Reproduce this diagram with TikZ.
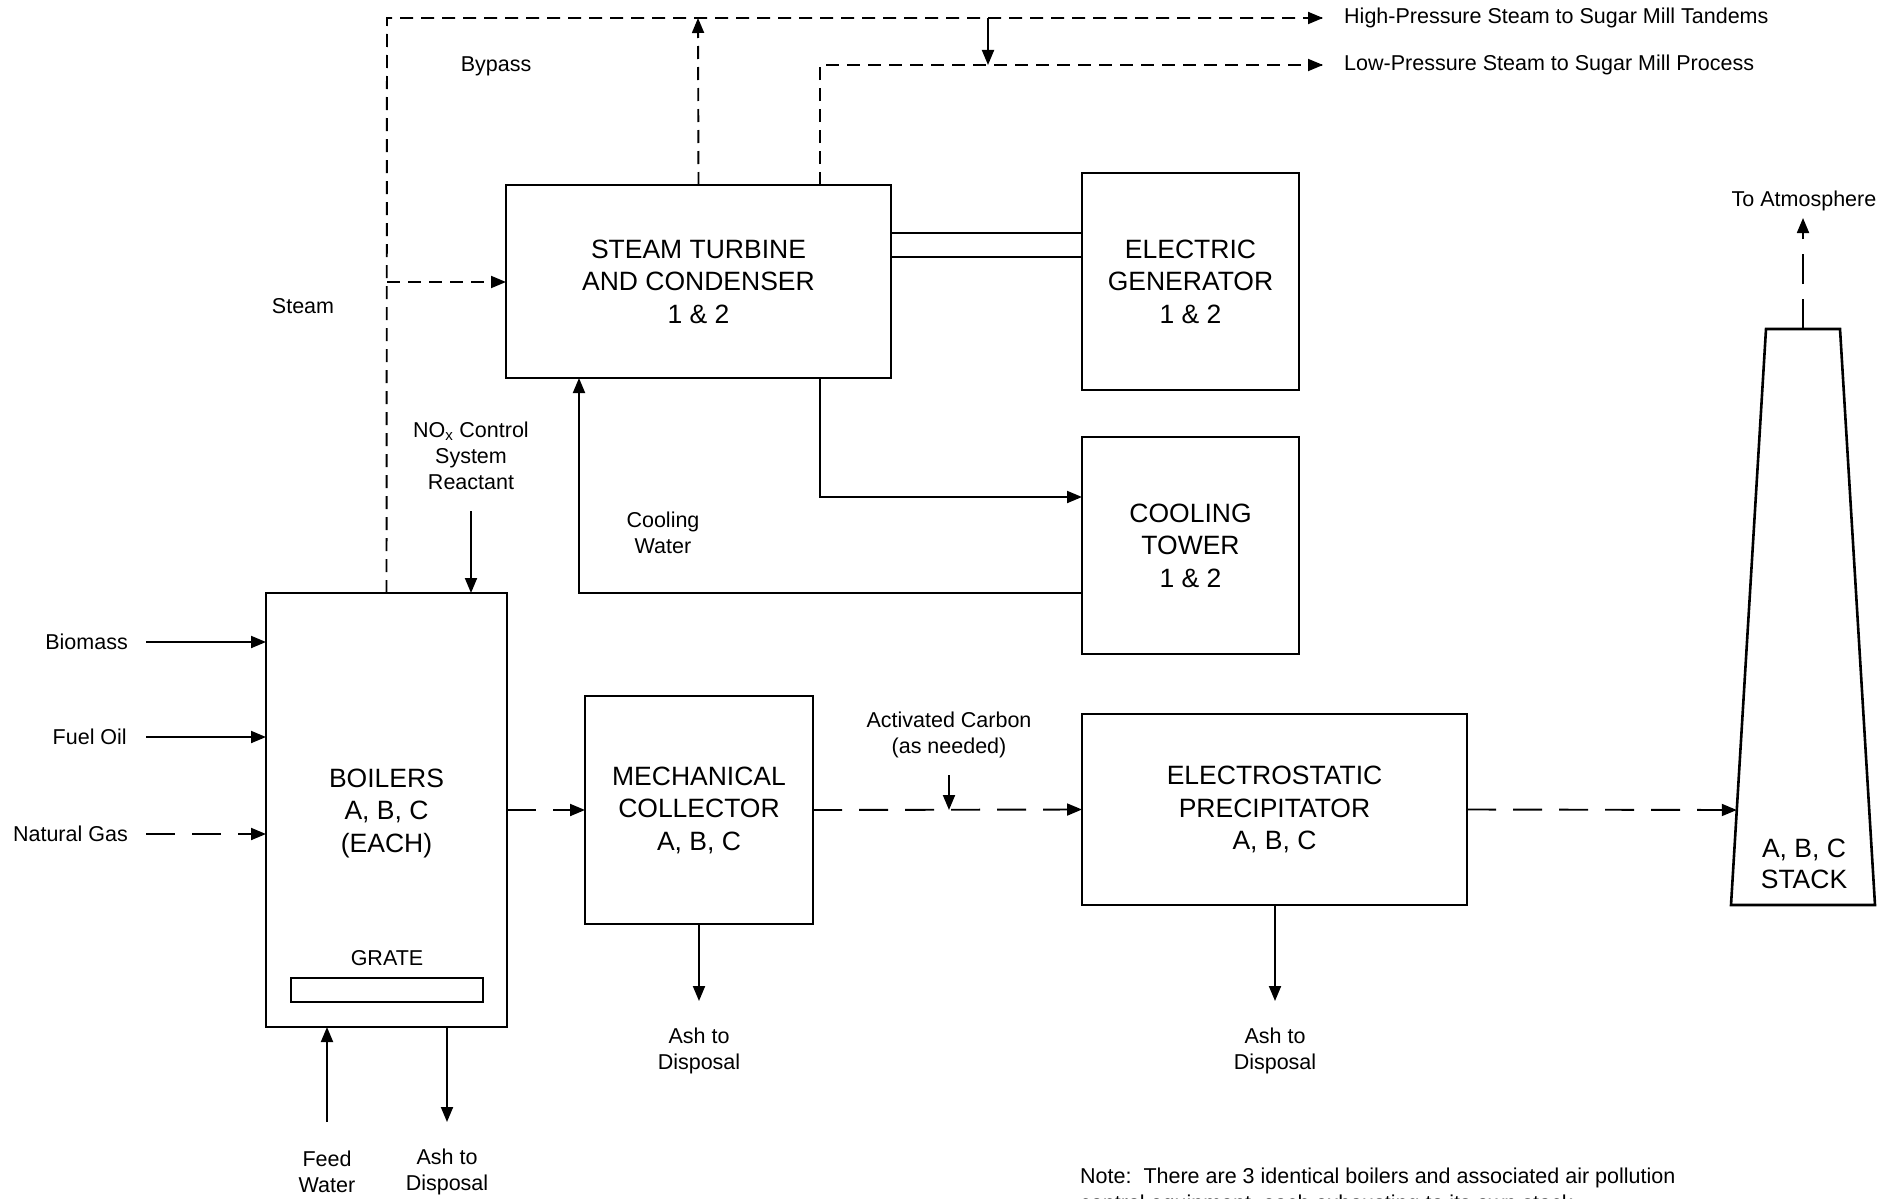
\documentclass[tikz,border=0pt]{standalone}
\usepackage{fontspec}
\setmainfont{Liberation Sans}
\usetikzlibrary{arrows.meta,calc}

\tikzset{
  unit/.style={draw, line width=2.6pt, rectangle, outer sep=0pt, inner sep=0pt,
    align=center, font=\fontsize{26.5}{32.5}\selectfont},
  lbl/.style={inner sep=0pt, align=center, font=\fontsize{21.5}{26.3}\selectfont},
  flow/.style={line width=1.9pt},
  tip/.style={-{Triangle[length=15pt,width=12pt]}},
  steamdash/.style={dash pattern=on 13pt off 8pt},
  gasdash/.style={dash pattern=on 29pt off 17pt},
}

\begin{document}
\begin{tikzpicture}[x=1pt, y=-1pt]
\useasboundingbox (0,0) rectangle (1898,1199);

% ---------- process units ----------
\node[unit, minimum width=385pt, minimum height=193pt] (turb) at (698.5,281.5)
  {STEAM TURBINE\\AND CONDENSER\\1 \& 2};
\node[unit, minimum width=217pt, minimum height=217pt] (gen) at (1190.5,281.5)
  {ELECTRIC\\GENERATOR\\1 \& 2};
\node[unit, minimum width=217pt, minimum height=217pt] (tower) at (1190.5,545.5)
  {COOLING\\TOWER\\1 \& 2};
\node[unit, minimum width=241pt, minimum height=434pt] (boil) at (386.5,810)
  {};
\node[font=\fontsize{26.5}{32.5}\selectfont, align=center] (boiltxt) at (386.5,813)
  {BOILERS\\A, B, C\\(EACH)};
\node[unit, minimum width=192pt, minimum height=24pt] (grate) at (387,990) {};
\node[lbl] (gratelbl) at (387,958) {GRATE};
\node[unit, minimum width=228pt, minimum height=228pt] (mech) at (699,810)
  {MECHANICAL\\COLLECTOR\\A, B, C};
\node[unit, minimum width=385pt, minimum height=191pt] (esp) at (1274.5,809.5)
  {ELECTROSTATIC\\PRECIPITATOR\\A, B, C};

% stack (tapered)
\coordinate (sbl) at (1731,905);
\coordinate (stl) at (1766,329);
\coordinate (str) at (1840,329);
\coordinate (sbr) at (1875,905);
\draw[line width=2.6pt, line join=miter] (sbl) -- (stl) -- (str) -- (sbr) -- cycle;
\node[font=\fontsize{26.5}{30.5}\selectfont, align=center] (stack) at (1804,864)
  {A, B, C\\STACK};
\coordinate (stacktop) at (1803,329);
\coordinate (stackin) at ($(sbl)!{95/576}!(stl)$);

% ---------- labels ----------
\node[lbl, anchor=west] (hp) at (1344,18) {High-Pressure Steam to Sugar Mill Tandems};
\node[lbl, anchor=west] (lp) at (1344,65) {Low-Pressure Steam to Sugar Mill Process};
\node[lbl] (bypass) at (496,66) {Bypass};
\node[lbl] (steam) at (303,306) {Steam};
\node[lbl] (nox) at (471,456) {NO\textsubscript{x} Control\\System\\Reactant};
\node[lbl] (cw) at (663,533) {Cooling\\Water};
\node[lbl, anchor=east] (bio) at (128,642) {Biomass};
\node[lbl, anchor=east] (oil) at (127,737) {Fuel Oil};
\node[lbl, anchor=east] (gas) at (128,834) {Natural Gas};
\node[lbl] (feed) at (327,1172) {Feed\\Water};
\node[lbl] (ash1) at (447,1172) {Ash to\\Disposal};
\node[lbl] (ac) at (949,735) {Activated Carbon\\(as needed)};
\node[lbl] (ash2) at (699,1051) {Ash to\\Disposal};
\node[lbl] (ash3) at (1275,1051) {Ash to\\Disposal};
\node[lbl] (atm) at (1804,201) {To Atmosphere};
\node[lbl, anchor=base west, align=left] (note) at (1080,1210)
  {Note:\ \ There are 3 identical boilers and associated air pollution\\
   control equipment, each exhausting to its own stack.};

% ---------- free ends of connectors ----------
\coordinate (hpend) at (1323,18);
\coordinate (lpend) at (1323,65);
\coordinate (bycorner) at (387,18);
\coordinate (bysteam) at (387,282);
\coordinate (hprise) at (698,18);
\coordinate (lpcorner) at (820,65);
\coordinate (tap) at (988,18);
\coordinate (tapend) at (988,65);
\coordinate (noxin) at (471,511);
\coordinate (bioin) at (146,642);
\coordinate (oilin) at (146,737);
\coordinate (gasin) at (146,834);
\coordinate (feedin) at (327,1122);
\coordinate (ash1end) at (447,1122);
\coordinate (ash2end) at (699,1001);
\coordinate (ash3end) at (1275,1001);
\coordinate (acin) at (949,775);
\coordinate (acend) at (949,810);
\coordinate (atmend) at (1803,218);
\coordinate (cwcorner) at (820,497);
\coordinate (retcorner) at (579,593);

% ---------- steam lines ----------
\draw[flow, steamdash] (boil.north) -- (bycorner) -- (hpend);
\draw[flow, tip] ($(hpend)+(-1,0)$) -- (hpend);
\draw[flow, steamdash, tip] (bysteam) -- (turb.west |- bysteam);
\draw[flow, steamdash, tip] (turb.north) -- (hprise);
\draw[flow, steamdash] (turb.north -| lpcorner) -- (lpcorner) -- (lpend);
\draw[flow, tip] ($(lpend)+(-1,0)$) -- (lpend);
\draw[flow, tip] (tap) -- (tapend);

% ---------- shaft to generator ----------
\draw[flow] (turb.east |- 0,233) -- (gen.west |- 0,233);
\draw[flow] (turb.east |- 0,257) -- (gen.west |- 0,257);

% ---------- cooling water loop ----------
\draw[flow, tip] (turb.south -| cwcorner) -- (cwcorner) -- (tower.west |- cwcorner);
\draw[flow, tip] (tower.west |- retcorner) -- (retcorner) -- (turb.south -| retcorner);

% ---------- boiler inputs and outputs ----------
\draw[flow, tip] (noxin) -- (boil.north -| noxin);
\draw[flow, tip] (bioin) -- (boil.west |- bioin);
\draw[flow, tip] (oilin) -- (boil.west |- oilin);
\draw[flow, gasdash, tip] (gasin) -- (boil.west |- gasin);
\draw[flow, tip] (feedin) -- (boil.south -| feedin);
\draw[flow, tip] (boil.south -| ash1end) -- (ash1end);

% ---------- flue gas path ----------
\draw[flow, gasdash, tip] (boil.east) -- (mech.west);
\draw[flow, gasdash, tip] (mech.east) -- (esp.west);
\draw[flow, tip] (acin) -- (acend);
\draw[flow, gasdash, tip] (esp.east) -- (stackin);
\draw[flow, dash pattern=on 30pt off 15pt, tip] (stacktop) -- (atmend);

% ---------- ash removal ----------
\draw[flow, tip] (mech.south) -- (ash2end);
\draw[flow, tip] (esp.south -| ash3end) -- (ash3end);
\end{tikzpicture}
\end{document}
